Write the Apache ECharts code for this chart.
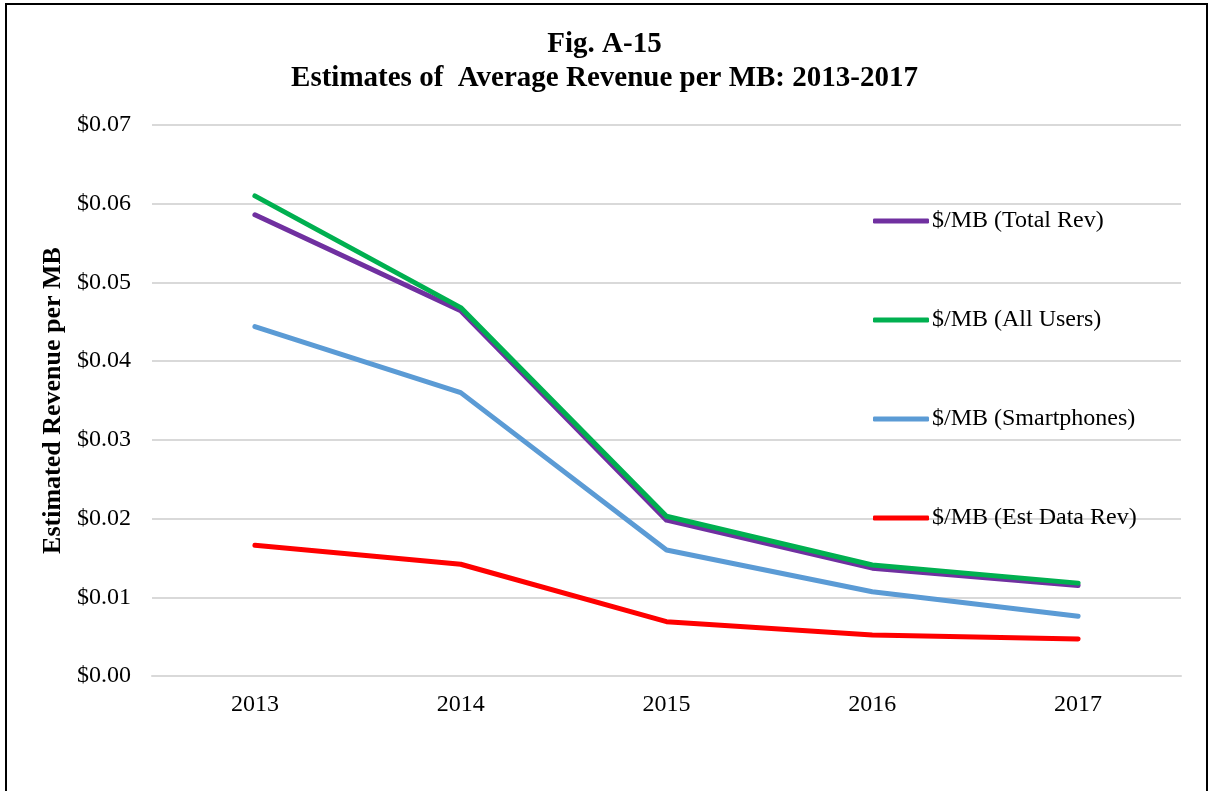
<!DOCTYPE html>
<html>
<head>
<meta charset="utf-8">
<script src="https://cdn.jsdelivr.net/npm/echarts@6/dist/echarts.min.js"></script>
<style>html,body{margin:0;padding:0;background:#fff}#c{width:1209px;height:791px}</style>
</head>
<body>
<div id="c"></div>
<script>
var categories = ['2013', '2014', '2015', '2016', '2017'];
var totalRev = [0.0586, 0.0464, 0.0198, 0.0137, 0.0115];
var allUsers = [0.0610, 0.0468, 0.0203, 0.0141, 0.0118];
var smartphones = [0.0444, 0.0360, 0.0160, 0.0107, 0.0076];
var estDataRev = [0.0166, 0.0142, 0.0069, 0.0052, 0.0047];
var seriesNames = ['$/MB (Total Rev)', '$/MB (All Users)', '$/MB (Smartphones)', '$/MB (Est Data Rev)'];
var yTicks = [0, 0.01, 0.02, 0.03, 0.04, 0.05, 0.06, 0.07];

var font = '"Liberation Serif", "Times New Roman", serif';
var colors = ['#7030A0', '#00B050', '#5B9BD5', '#FF0000'];
var dataSets = [totalRev, allUsers, smartphones, estDataRev];

var chart = echarts.init(document.getElementById('c'));
chart.setOption({
  animation: false,
  backgroundColor: '#fff',
  textStyle: {fontFamily: font},
  title: {
    text: 'Fig. A-15\nEstimates of  Average Revenue per MB: 2013-2017',
    left: 'center', top: 28, padding: 0,
    textStyle: {fontFamily: font, fontSize: 29, fontWeight: 'bold', color: '#000', lineHeight: 34}
  },
  graphic: [{
    type: 'rect', shape: {x: 6, y: 4, width: 1201, height: 800},
    style: {fill: 'none', stroke: '#000', lineWidth: 2}, silent: true, z: 100
  }],
  legend: {
    orient: 'vertical', left: 873, top: 209, padding: 0,
    itemGap: 75, itemWidth: 56, itemHeight: 5, icon: 'roundRect',
    data: seriesNames,
    textStyle: {fontFamily: font, fontSize: 24, lineHeight: 24, color: '#000', padding: [0,0,0,-2]}
  },
  grid: {left: 152, right: 28, top: 125, bottom: 115},
  xAxis: {
    type: 'category', data: categories, boundaryGap: true,
    axisLine: {show: true, lineStyle: {color: '#d9d9d9', width: 2}},
    axisTick: {show: false},
    axisLabel: {fontFamily: font, fontSize: 24, color: '#000', margin: 17}
  },
  yAxis: {
    type: 'value', min: 0, max: 0.07, interval: 0.01,
    name: 'Estimated Revenue per MB', nameLocation: 'middle', nameGap: 86,
    nameTextStyle: {fontFamily: font, fontSize: 26, fontWeight: 'bold', color: '#000'},
    axisLine: {show: false}, axisTick: {show: false},
    splitLine: {lineStyle: {color: '#d9d9d9', width: 2}},
    axisLabel: {fontFamily: font, fontSize: 24, color: '#000', margin: 21,
      formatter: function (v) { return '$' + v.toFixed(2); }}
  },
  series: seriesNames.map(function (n, i) {
    return {
      name: n, type: 'line', data: dataSets[i], symbol: 'none',
      itemStyle: {color: colors[i]},
      lineStyle: {color: colors[i], width: 5, cap: 'round', join: 'round'}
    };
  })
});
</script>
</body>
</html>
